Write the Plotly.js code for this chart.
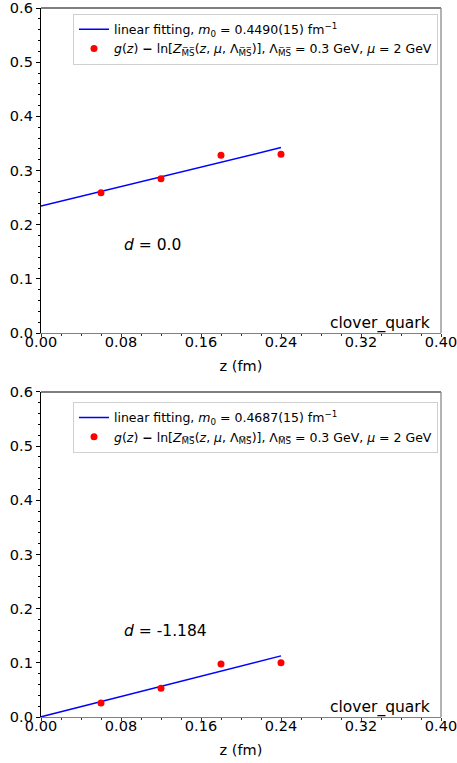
<!DOCTYPE html>
<html>
<head>
<meta charset="utf-8">
<script src="https://cdn.plot.ly/plotly-3.0.1.min.js"></script>
<style>
html,body{margin:0;padding:0;background:#fff;}
#chart{width:457px;height:763px;}
</style>
</head>
<body>
<div id="chart"></div>
<script>
// ---- data ----
const zPoints = [0.06, 0.12, 0.18, 0.24];
const gTop = [0.259, 0.285, 0.328, 0.330];
const gTopErr = [0.002, 0.002, 0.002, 0.002];
const gBottom = [0.026, 0.053, 0.098, 0.100];
const gBottomErr = [0.002, 0.002, 0.002, 0.002];
const fitX = [0.0, 0.24];
const fitTop = [0.2345, 0.3423];
const fitBottom = [0.0003, 0.1128];
const xTickVals = [0.00, 0.08, 0.16, 0.24, 0.32, 0.40];
const xTickText = ["0.00", "0.08", "0.16", "0.24", "0.32", "0.40"];
const yTickVals = [0.0, 0.1, 0.2, 0.3, 0.4, 0.5, 0.6];
const yTickText = ["0.0", "0.1", "0.2", "0.3", "0.4", "0.5", "0.6"];
const fitLabels = ["linear fitting, <i>m</i><sub>0</sub> = 0.4490(15) fm<sup>−1</sup>",
                   "linear fitting, <i>m</i><sub>0</sub> = 0.4687(15) fm<sup>−1</sup>"];
const dLabels = ["<i>d</i> = 0.0", "<i>d</i> = -1.184"];
const MS = "M\u0305S\u0305";
const dataLabel = "<i>g</i>(<i>z</i>) <b>−</b> ln[<i>Z</i><sub>" + MS + "</sub>(<i>z</i>, <i>μ</i>, Λ<sub>" + MS +
                  "</sub>)], Λ<sub>" + MS + "</sub> = 0.3 GeV, <i>μ</i> = 2 GeV";
const actionLabel = "clover_quark";
const xTitle = "z (fm)";

const FONT = "DejaVu Sans, Liberation Sans, sans-serif";

function fitTrace(y, name, xa, ya, leg) {
  return {x: fitX, y: y, mode: 'lines', name: name, xaxis: xa, yaxis: ya, legend: leg,
          line: {color: '#0000ff', width: 1.5}};
}
function dataTrace(y, err, xa, ya, leg) {
  return {x: zPoints, y: y, mode: 'markers', name: dataLabel, xaxis: xa, yaxis: ya, legend: leg,
          marker: {color: '#ff0000', size: 7},
          error_y: {type: 'data', array: err, visible: true, color: '#ff0000', thickness: 1.5, width: 3}};
}

const traces = [
  fitTrace(fitTop, fitLabels[0], 'x', 'y', 'legend'),
  dataTrace(gTop, gTopErr, 'x', 'y', 'legend'),
  fitTrace(fitBottom, fitLabels[1], 'x2', 'y2', 'legend2'),
  dataTrace(gBottom, gBottomErr, 'x2', 'y2', 'legend2')
];

function xAxis(anchor) {
  return {anchor: anchor, domain: [0, 1], range: [0, 0.4], tickmode: 'array', tickvals: xTickVals, ticktext: xTickText,
          showgrid: false, zeroline: false, showline: true, linecolor: '#808080', linewidth: 1.2,
          ticks: 'outside', ticklen: 3, tickcolor: '#333', tickwidth: 1, ticklabelstandoff: -8,
          ticklabeloverflow: 'allow',
          minor: {tickmode: 'linear', tick0: 0, dtick: 0.02, ticks: 'outside', ticklen: 2, tickcolor: '#333', showgrid: false},
          tickfont: {family: FONT, size: 14.5, color: '#000'},
          title: {text: xTitle, font: {family: FONT, size: 14.5, color: '#000'}, standoff: 12}};
}
function yAxis(anchor, domain) {
  return {anchor: anchor, domain: domain, range: [0, 0.6], tickmode: 'array', tickvals: yTickVals, ticktext: yTickText,
          showgrid: false, zeroline: false, showline: true, linecolor: '#000', linewidth: 1.2,
          ticks: 'outside', ticklen: 4, tickcolor: '#000', tickwidth: 1, ticklabeloverflow: 'allow',
          minor: {tickmode: 'linear', tick0: 0, dtick: 0.02, ticks: 'outside', ticklen: 2, tickcolor: '#000', showgrid: false},
          tickfont: {family: FONT, size: 14.5, color: '#000'}};
}

function frame(xa, ya) {
  return [
    {type: 'line', xref: xa + ' domain', yref: ya + ' domain', x0: 0, x1: 1, y0: 1, y1: 1,
     line: {color: '#000', width: 1.2}},
    {type: 'line', xref: xa + ' domain', yref: ya + ' domain', x0: 1, x1: 1, y0: 0, y1: 1,
     line: {color: '#808080', width: 1.2}}
  ];
}

function legendCfg(y) {
  return {x: 0.08, y: y, xanchor: 'left', yanchor: 'top', xref: 'paper', yref: 'paper',
          bgcolor: 'rgba(255,255,255,0.9)', bordercolor: '#d0d0d0', borderwidth: 1,
          font: {family: FONT, size: 12.5, color: '#000'}, itemwidth: 30, tracegroupgap: 0};
}

const layout = {
  width: 457, height: 763,
  margin: {l: 41, r: 16, t: 8, b: 46},
  paper_bgcolor: '#fff', plot_bgcolor: '#fff',
  font: {family: FONT, color: '#000'},
  showlegend: true,
  xaxis: xAxis('y'),
  yaxis: yAxis('x', [0.5416, 1]),
  xaxis2: xAxis('y2'),
  yaxis2: yAxis('x2', [0, 0.4584]),
  legend: legendCfg(0.992),
  legend2: legendCfg(0.4445),
  shapes: frame('x', 'y').concat(frame('x2', 'y2')),
  annotations: [
    {xref: 'x', yref: 'y', x: 0.081, y: 0.162, xanchor: 'left', yanchor: 'middle', text: dLabels[0],
     showarrow: false, font: {family: FONT, size: 15.5, color: '#000'}},
    {xref: 'x2', yref: 'y2', x: 0.081, y: 0.159, xanchor: 'left', yanchor: 'middle', text: dLabels[1],
     showarrow: false, font: {family: FONT, size: 15.5, color: '#000'}},
    {xref: 'x domain', yref: 'y domain', x: 0.978, y: 0.0, xanchor: 'right', yanchor: 'bottom', text: actionLabel,
     yshift: -2, showarrow: false, font: {family: FONT, size: 15.5, color: '#000'}},
    {xref: 'x2 domain', yref: 'y2 domain', x: 0.978, y: 0.0, xanchor: 'right', yanchor: 'bottom', text: actionLabel,
     yshift: -2, showarrow: false, font: {family: FONT, size: 15.5, color: '#000'}}
  ]
};

Plotly.newPlot('chart', traces, layout, {displayModeBar: false, staticPlot: true});
</script>
</body>
</html>
